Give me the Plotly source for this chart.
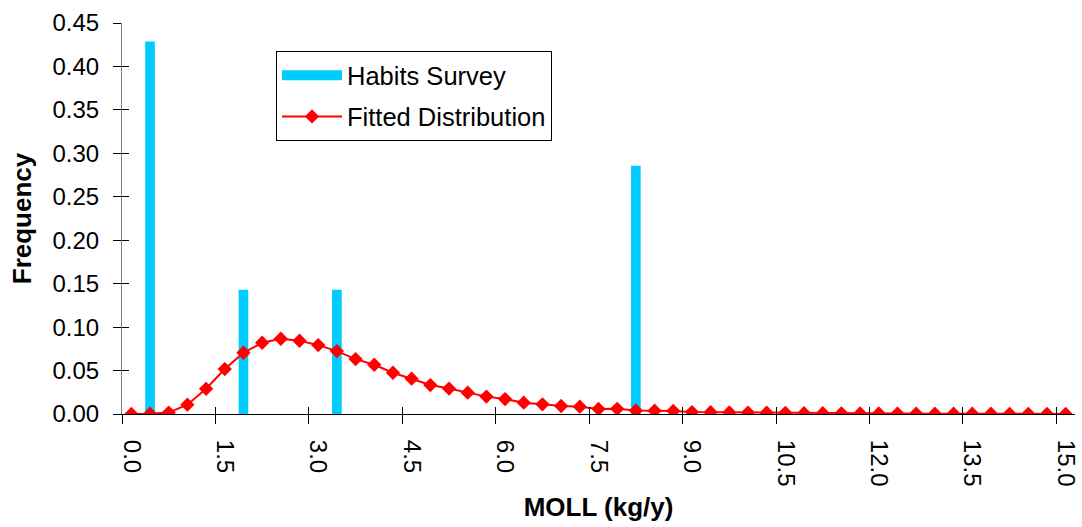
import plotly.graph_objects as go

# ---- data ----
categories = [0.0, 0.3, 0.6, 0.9, 1.2, 1.5, 1.8, 2.1, 2.4, 2.7,
              3.0, 3.3, 3.6, 3.9, 4.2, 4.5, 4.8, 5.1, 5.4, 5.7,
              6.0, 6.3, 6.6, 6.9, 7.2, 7.5, 7.8, 8.1, 8.4, 8.7,
              9.0, 9.3, 9.6, 9.9, 10.2, 10.5, 10.8, 11.1, 11.4, 11.7,
              12.0, 12.3, 12.6, 12.9, 13.2, 13.5, 13.8, 14.1, 14.4, 14.7,
              15.0]
fitted = [0.0000, 0.0003, 0.0016, 0.0107, 0.0290, 0.0517, 0.0705, 0.0820, 0.0866, 0.0843,
          0.0793, 0.0724, 0.0632, 0.0567, 0.0475, 0.0406, 0.0333, 0.0293, 0.0245, 0.0200,
          0.0172, 0.0130, 0.0111, 0.0092, 0.0084, 0.0058, 0.0060, 0.0040, 0.0038, 0.0035,
          0.0022, 0.0020, 0.0018, 0.0016, 0.0015, 0.0014, 0.0010, 0.0009, 0.0008, 0.0007,
          0.0006, 0.0005, 0.0005, 0.0004, 0.0004, 0.0003, 0.0003, 0.0002, 0.0002, 0.0001,
          0.0001]
survey_x = [0.3, 1.8, 3.3, 8.1]
survey_y = [0.4286, 0.1429, 0.1429, 0.2857]

x_tick_vals = [0.0, 1.5, 3.0, 4.5, 6.0, 7.5, 9.0, 10.5, 12.0, 13.5, 15.0]
x_tick_text = ["0.0", "1.5", "3.0", "4.5", "6.0", "7.5", "9.0", "10.5", "12.0", "13.5", "15.0"]
x_boundary_ticks = [-0.15, 1.35, 2.85, 4.35, 5.85, 7.35, 8.85, 10.35, 11.85, 13.35, 14.85]
y_tick_vals = [0.0, 0.05, 0.10, 0.15, 0.20, 0.25, 0.30, 0.35, 0.40, 0.45]

FONT = "Liberation Sans, Arial, sans-serif"
XR = [-0.15, 15.15]
YR = [0, 0.45]
CYAN = "#00CCFF"
RED = "#FF0000"

fig = go.Figure()
fig.add_trace(go.Bar(
    x=survey_x, y=survey_y, width=0.155, name="Habits Survey",
    marker=dict(color=CYAN, line=dict(width=0)),
    showlegend=False, legendgroup="a",
))
# legend entry for the survey bars (wide cyan swatch)
fig.add_trace(go.Scatter(
    x=[None], y=[None], mode="lines", name="Habits Survey",
    line=dict(color=CYAN, width=18), legendgroup="a", hoverinfo="skip",
))
fig.add_trace(go.Scatter(
    x=categories, y=fitted, mode="lines+markers", name="Fitted Distribution",
    line=dict(color=RED, width=2),
    marker=dict(symbol="diamond", size=11, color=RED),
    legendgroup="b",
))
# empty traces so the tick-only overlay axes are rendered
fig.add_trace(go.Scatter(x=[None], y=[None], xaxis="x2", yaxis="y2",
                         showlegend=False, hoverinfo="skip"))
fig.add_trace(go.Scatter(x=[None], y=[None], xaxis="x3", yaxis="y3",
                         showlegend=False, hoverinfo="skip"))

fig.update_layout(
    width=1082, height=527,
    margin=dict(l=122, r=7, t=23, b=113, autoexpand=False),
    paper_bgcolor="white", plot_bgcolor="white",
    font=dict(family=FONT, size=24, color="black"),
    showlegend=True,
    legend=dict(
        x=0.1616, y=0.928, xanchor="left", yanchor="top",
        bordercolor="black", borderwidth=1, bgcolor="white",
        font=dict(family=FONT, size=25.5, color="black"),
        tracegroupgap=5, traceorder="grouped", itemwidth=60,
    ),
    xaxis=dict(
        range=XR, tickmode="array", tickvals=x_tick_vals, ticktext=x_tick_text,
        tickangle=90, ticks="", showgrid=False, zeroline=False,
        showline=True, linecolor="black", linewidth=1,
        ticklabelstandoff=20,
        tickfont=dict(family=FONT, size=24),
        title=dict(text="<b>MOLL (kg/y)</b>", font=dict(family=FONT, size=26), standoff=12),
        automargin=False,
    ),
    xaxis2=dict(
        range=XR, overlaying="x", anchor="y", tickmode="array", tickvals=x_boundary_ticks,
        ticks="outside", ticklen=9, tickcolor="black", tickwidth=1,
        showticklabels=False, showgrid=False, zeroline=False, showline=False,
    ),
    xaxis3=dict(
        range=XR, overlaying="x", anchor="y", tickmode="array", tickvals=x_boundary_ticks,
        ticks="inside", ticklen=7, tickcolor="black", tickwidth=1,
        showticklabels=False, showgrid=False, zeroline=False, showline=False,
    ),
    yaxis=dict(
        range=YR, tickmode="array", tickvals=y_tick_vals, tickformat=".2f",
        ticks="", showgrid=False, zeroline=False,
        showline=True, linecolor="#808080", linewidth=1,
        ticklabelstandoff=17,
        tickfont=dict(family=FONT, size=24),
        title=dict(text="<b>Frequency</b>", font=dict(family=FONT, size=26), standoff=13),
        automargin=False,
    ),
    yaxis2=dict(
        range=YR, overlaying="y", anchor="x", tickmode="array", tickvals=y_tick_vals,
        ticks="outside", ticklen=8, tickcolor="black", tickwidth=1,
        showticklabels=False, showgrid=False, zeroline=False, showline=False,
    ),
    yaxis3=dict(
        range=YR, overlaying="y", anchor="x", tickmode="array", tickvals=y_tick_vals,
        ticks="inside", ticklen=7, tickcolor="black", tickwidth=1,
        showticklabels=False, showgrid=False, zeroline=False, showline=False,
    ),
)

fig.write_html("out.html")
